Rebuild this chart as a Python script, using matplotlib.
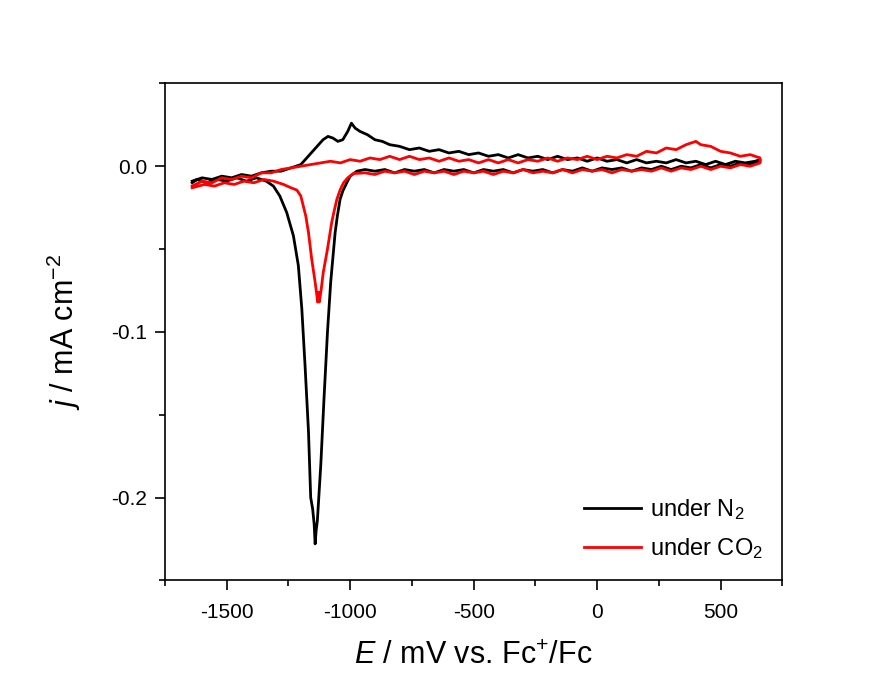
import matplotlib
matplotlib.use('Agg')
from matplotlib import pyplot as plt
from matplotlib.ticker import MultipleLocator

plt.rcParams['font.family'] = ['Liberation Sans', 'DejaVu Sans']
plt.rcParams['mathtext.fontset'] = 'custom'
plt.rcParams['mathtext.rm'] = 'Liberation Sans'
plt.rcParams['mathtext.it'] = 'Liberation Sans:italic'
plt.rcParams['axes.unicode_minus'] = False

# under N2: anodic sweep (-1640 -> 660)
n2_e_up = [-1640, -1600, -1560, -1520, -1480, -1440, -1400, -1360, -1320, -1280,
           -1240, -1200, -1170, -1140, -1110, -1090, -1070, -1050, -1030, -1010,
           -995, -980, -960, -930, -900, -870, -840, -800, -760, -720,
           -680, -640, -600, -560, -520, -480, -440, -400, -360, -320,
           -280, -240, -200, -160, -120, -80, -40, 0, 40, 80,
           120, 160, 200, 240, 280, 320, 360, 400, 440, 480,
           520, 560, 600, 640, 660]
n2_j_up = [-0.009, -0.007, -0.008, -0.006, -0.007, -0.005, -0.006, -0.004, -0.003, -0.003,
           -0.001, 0.001, 0.006, 0.011, 0.016, 0.018, 0.017, 0.015, 0.016, 0.021,
           0.026, 0.023, 0.021, 0.019, 0.016, 0.015, 0.013, 0.012, 0.010, 0.011,
           0.009, 0.010, 0.008, 0.009, 0.007, 0.008, 0.006, 0.007, 0.005, 0.007,
           0.005, 0.006, 0.004, 0.006, 0.004, 0.005, 0.003, 0.005, 0.003, 0.004,
           0.002, 0.004, 0.002, 0.003, 0.002, 0.004, 0.002, 0.003, 0.001, 0.003,
           0.001, 0.003, 0.002, 0.003, 0.004]

# under N2: cathodic sweep (660 -> -1640)
n2_e_down = [660, 620, 580, 540, 500, 460, 420, 380, 340, 300,
             260, 220, 180, 140, 100, 60, 20, -20, -60, -100,
             -140, -180, -220, -260, -300, -340, -380, -420, -460, -500,
             -540, -580, -620, -660, -700, -740, -780, -820, -860, -900,
             -940, -973, -1000, -1014, -1030, -1041, -1052, -1061, -1070, -1079,
             -1092, -1106, -1119, -1133, -1138, -1142, -1146, -1152, -1160, -1169,
             -1183, -1196, -1210, -1230, -1257, -1285, -1311, -1340, -1380, -1420,
             -1460, -1500, -1540, -1580, -1620, -1640]
n2_j_down = [0.003, 0.001, 0.002, 0.000, 0.001, -0.001, 0.001, -0.001, 0.000, -0.002,
             0.000, -0.002, -0.001, -0.003, -0.001, -0.002, -0.001, -0.003, -0.001, -0.003,
             -0.002, -0.004, -0.002, -0.003, -0.002, -0.004, -0.002, -0.003, -0.002, -0.004,
             -0.002, -0.003, -0.002, -0.004, -0.002, -0.003, -0.002, -0.004, -0.002, -0.003,
             -0.002, -0.003, -0.006, -0.010, -0.015, -0.020, -0.030, -0.040, -0.055, -0.070,
             -0.100, -0.140, -0.180, -0.214, -0.220, -0.228, -0.216, -0.207, -0.200, -0.160,
             -0.120, -0.086, -0.060, -0.042, -0.028, -0.018, -0.012, -0.009, -0.007, -0.009,
             -0.007, -0.009, -0.008, -0.010, -0.008, -0.010]

# under CO2: anodic sweep
co2_e_up = [-1640, -1600, -1560, -1520, -1480, -1440, -1400, -1360, -1320, -1280,
            -1240, -1200, -1160, -1120, -1080, -1040, -1000, -960, -920, -880,
            -840, -800, -760, -720, -680, -640, -600, -560, -520, -480,
            -440, -400, -360, -320, -280, -240, -200, -160, -120, -80,
            -40, 0, 40, 80, 120, 160, 200, 240, 280, 320,
            360, 400, 420, 460, 500, 540, 580, 620, 660]
co2_j_up = [-0.012, -0.009, -0.010, -0.007, -0.008, -0.006, -0.007, -0.004, -0.004, -0.002,
            -0.001, 0.000, 0.001, 0.002, 0.003, 0.002, 0.004, 0.003, 0.005, 0.004,
            0.006, 0.004, 0.006, 0.004, 0.005, 0.003, 0.005, 0.003, 0.004, 0.002,
            0.004, 0.002, 0.004, 0.002, 0.004, 0.003, 0.005, 0.003, 0.005, 0.004,
            0.006, 0.004, 0.006, 0.005, 0.007, 0.006, 0.009, 0.008, 0.011, 0.010,
            0.013, 0.015, 0.013, 0.012, 0.009, 0.008, 0.006, 0.007, 0.005]

# under CO2: cathodic sweep
co2_e_down = [660, 620, 580, 540, 500, 460, 420, 380, 340, 300,
              260, 220, 180, 140, 100, 60, 20, -20, -60, -100,
              -140, -180, -220, -260, -300, -340, -380, -420, -460, -500,
              -540, -580, -620, -660, -700, -740, -780, -820, -860, -900,
              -940, -987, -1010, -1027, -1040, -1054, -1065, -1075, -1092, -1109,
              -1118, -1125, -1129, -1132, -1135, -1142, -1156, -1169, -1180, -1190,
              -1200, -1216, -1240, -1270, -1311, -1350, -1390, -1430, -1470, -1510,
              -1550, -1590, -1640]
co2_j_down = [0.002, 0.000, 0.001, -0.001, 0.000, -0.002, 0.000, -0.002, -0.001, -0.003,
              -0.001, -0.003, -0.002, -0.003, -0.002, -0.004, -0.002, -0.003, -0.002, -0.004,
              -0.002, -0.004, -0.003, -0.004, -0.002, -0.004, -0.003, -0.005, -0.003, -0.004,
              -0.003, -0.005, -0.003, -0.004, -0.003, -0.005, -0.003, -0.004, -0.003, -0.005,
              -0.004, -0.0044, -0.007, -0.010, -0.014, -0.020, -0.027, -0.034, -0.050, -0.064,
              -0.075, -0.082, -0.076, -0.082, -0.078, -0.070, -0.056, -0.040, -0.030, -0.024,
              -0.018, -0.0144, -0.013, -0.011, -0.009, -0.008, -0.010, -0.009, -0.011, -0.010,
              -0.012, -0.011, -0.013]


def graphing():
    fig = plt.figure(figsize=(8.92, 6.95), dpi=100)
    ax = fig.add_axes([0.185, 0.165, 0.692, 0.715])

    ax.plot(n2_e_up + n2_e_down, n2_j_up + n2_j_down, c='black', lw=2.0,
            label=r'under N$_2$')
    ax.plot(co2_e_up + co2_e_down, co2_j_up + co2_j_down, c='red', lw=2.0,
            label=r'under CO$_2$')

    ax.set_xlim(-1750, 750)
    ax.set_ylim(-0.25, 0.05)
    ax.xaxis.set_major_locator(MultipleLocator(500))
    ax.xaxis.set_minor_locator(MultipleLocator(250))
    ax.yaxis.set_major_locator(MultipleLocator(0.1))
    ax.yaxis.set_minor_locator(MultipleLocator(0.05))
    ax.tick_params(which='major', direction='out', length=7, width=1.2,
                   labelsize=15)
    ax.tick_params(which='minor', direction='out', length=4, width=1.2)
    ax.tick_params(axis='x', which='major', pad=9)
    ax.tick_params(axis='y', which='major', pad=6)
    for s in ax.spines.values():
        s.set_linewidth(1.2)
    ax.yaxis.set_major_formatter(plt.FuncFormatter(lambda v, p: '%.1f' % v))

    ax.set_xlabel(r'$\mathit{E}$ / mV vs. Fc$^{+}$/Fc', fontsize=22, labelpad=14)
    ax.set_ylabel(r'$\mathit{j}$ / mA cm$^{-2}$', fontsize=22, labelpad=20)

    ax.legend(loc='lower right', frameon=False, fontsize=17, handlelength=2.4,
              handletextpad=0.4, borderaxespad=0.4, labelspacing=0.6)

    fig.savefig('out.png')


if __name__ == "__main__":
    graphing()
